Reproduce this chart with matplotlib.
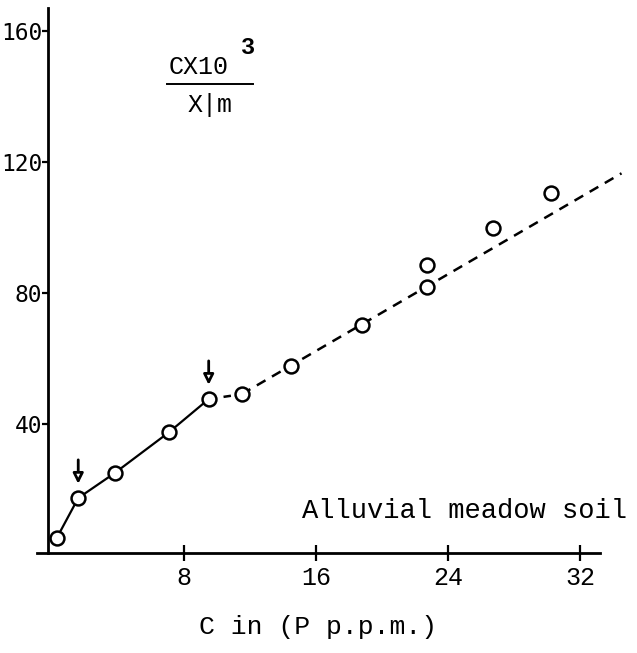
import matplotlib
matplotlib.use('Agg')
import matplotlib.pyplot as plt

conc = [0.3, 1.6, 3.8, 7.1, 9.5, 11.5, 14.5, 18.8, 22.7, 22.7, 26.7, 30.2]
ratio = [5.2, 17.4, 25.0, 37.5, 47.6, 49.1, 57.6, 70.1, 81.7, 88.4, 99.7, 110.4]

# 실선 구간 / 점선 구간
solid_x = [0.3, 1.6, 3.8, 7.1, 9.5]
solid_y = [5.2, 17.4, 25.0, 37.5, 47.6]
dash_x = [11.5, 34.5]
dash_y = [49.1, 116.5]
link_x = [9.5, 11.5]
link_y = [47.6, 49.1]

# 화살표 위치
arrow_x = [1.6, 9.5]
arrow_y = [17.4, 47.6]

xticks = [8, 16, 24, 32]
yticks = [40, 80, 120, 160]

mono = 'Liberation Mono'

fig = plt.figure(figsize=(6.37, 6.53), dpi=100)
ax = fig.add_axes([0.058, 0.153, 0.884, 0.835])

ax.plot(solid_x, solid_y, color='black', lw=1.6, zorder=2)
ax.plot(link_x, link_y, color='black', lw=1.8, dashes=(3, 3), zorder=2)
ax.plot(dash_x, dash_y, color='black', lw=1.8, dashes=(4, 3), zorder=2, clip_on=False)
ax.plot(conc, ratio, 'o', ms=10, mfc='white', mec='black', mew=1.8, zorder=3, clip_on=False)

for ax_x, ax_y in zip(arrow_x, arrow_y):
    ax.annotate('', xy=(ax_x, ax_y + 3.5), xytext=(ax_x, ax_y + 12.5),
                arrowprops=dict(arrowstyle='-|>', lw=2, fc='white', ec='black',
                                mutation_scale=15))

ax.set_xlim(-0.9, 33.2)
ax.set_ylim(0.6, 167)
ax.spines['top'].set_visible(False)
ax.spines['right'].set_visible(False)
ax.spines['left'].set_position(('data', -0.24))
ax.spines['left'].set_linewidth(2)
ax.spines['bottom'].set_linewidth(2)

ax.set_xticks(xticks)
ax.set_xticklabels([str(t) for t in xticks], fontfamily=mono, fontsize=18)
ax.tick_params(axis='x', direction='inout', length=11, width=1.6, pad=4)
ax.set_yticks(yticks)
ax.set_yticklabels([str(t) for t in yticks], fontfamily='DejaVu Sans Mono', fontsize=16.5)
ax.tick_params(axis='y', direction='out', length=4, width=1.6, pad=0)

ax.set_xlabel('C in (P p.p.m.)', fontfamily=mono, fontsize=19, labelpad=18)

# 세로축 라벨 (분수 형태)
ax.text(8.9, 148.8, 'CX10', fontfamily=mono, fontsize=18, ha='center', va='center')
ax.text(11.9, 155, '3', fontfamily=mono, fontsize=17, ha='center', va='center', weight='bold')
ax.plot([7.0, 12.2], [143.9, 143.9], color='black', lw=1.4, clip_on=False)
ax.text(9.6, 137.5, 'X|m', fontfamily=mono, fontsize=18, ha='center', va='center')

ax.text(34.85, 13.5, 'Alluvial meadow soil', fontfamily=mono, fontsize=19.5,
        ha='right', va='center')

fig.savefig('out.png', dpi=100)
